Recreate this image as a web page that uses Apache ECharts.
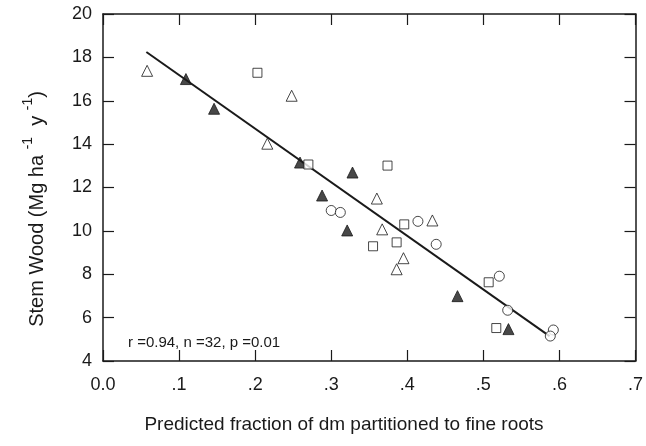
<!DOCTYPE html>
<html>
<head>
<meta charset="utf-8">
<script src="https://cdn.jsdelivr.net/npm/echarts@6/dist/echarts.min.js"></script>
<style>
html, body { margin: 0; padding: 0; background: #fff; }
#chart { width: 646px; height: 446px; }
</style>
</head>
<body>
<div id="chart"></div>
<script>
// data: [fraction to fine roots, stem wood]
var openTriangles = [[0.058, 17.38], [0.248, 16.23], [0.216, 14.02], [0.360, 11.49],
	[0.433, 10.48], [0.367, 10.07], [0.395, 8.74], [0.386, 8.23]];
var filledTriangles = [[0.109, 17.0], [0.146, 15.63], [0.259, 13.15], [0.328, 12.69],
	[0.288, 11.63], [0.321, 10.02], [0.466, 6.99], [0.533, 5.47]];
var openSquares = [[0.203, 17.29], [0.270, 13.06], [0.374, 13.01], [0.396, 10.30],
	[0.386, 9.47], [0.355, 9.29], [0.507, 7.63], [0.517, 5.52]];
var openCircles = [[0.300, 10.94], [0.312, 10.85], [0.414, 10.44], [0.438, 9.38],
	[0.521, 7.91], [0.532, 6.34], [0.592, 5.43], [0.588, 5.15]];
var fitLine = [[0.057, 18.25], [0.587, 5.15]];
var xTicks = ['0.0', '.1', '.2', '.3', '.4', '.5', '.6', '.7'];
var statsText = 'r =0.94, n =32, p =0.01';

var font = 'Liberation Sans, Arial, sans-serif';
var ink = '#1a1a1a';

var myChart = echarts.init(document.getElementById('chart'));

// one side of the box; ticks point into the plot
function frameAxis(pos, isX) {
	var a = {
		type: 'value',
		position: pos,
		axisLine: { show: true, onZero: false, lineStyle: { color: ink, width: 1.5 } },
		axisTick: { show: true, inside: true, length: 11, lineStyle: { color: ink, width: 1.2 } },
		splitLine: { show: false },
		axisLabel: { show: false }
	};
	if (isX) {
		a.min = 0; a.max = 0.7; a.interval = 0.1;
	} else {
		a.min = 4; a.max = 20; a.interval = 2;
	}
	return a;
}

var xMain = frameAxis('bottom', true);
xMain.axisLabel = {
	show: true, margin: 15, color: ink, fontSize: 18, fontFamily: font,
	formatter: function(v) { return xTicks[Math.round(v * 10)]; }
};
var yMain = frameAxis('left', false);
yMain.axisLabel = { show: true, margin: 11, color: ink, fontSize: 18, fontFamily: font };

function markers(data, symbol, size, filled) {
	return {
		type: 'scatter',
		data: data,
		symbol: symbol,
		symbolSize: size,
		xAxisIndex: 0, yAxisIndex: 0,
		itemStyle: {
			color: filled ? ink : '#fff',
			borderColor: ink,
			borderWidth: 1
		},
		z: 3
	};
}

var option = {
	animation: false,
	backgroundColor: '#fff',
	grid: { left: 103, right: 10, top: 14, bottom: 85 },
	xAxis: [xMain, frameAxis('top', true)],
	yAxis: [yMain, frameAxis('right', false)],
	series: [
		{
			type: 'line',
			data: fitLine,
			symbol: 'none',
			lineStyle: { color: ink, width: 2 },
			z: 2
		},
		markers(openTriangles, 'triangle', 11, false),
		markers(filledTriangles, 'triangle', 11, true),
		markers(openSquares, 'rect', 9, false),
		markers(openCircles, 'circle', 10, false)
	],
	graphic: [
		{
			type: 'text',
			x: 128, y: 343,
			style: { text: statsText, font: '15px ' + font, fill: ink, verticalAlign: 'middle' }
		},
		{
			type: 'text',
			x: 344, y: 425,
			style: {
				text: 'Predicted fraction of dm partitioned to fine roots',
				font: '19px ' + font, fill: ink, align: 'center', verticalAlign: 'middle'
			}
		},
		{
			type: 'text',
			x: 37, y: 209,
			rotation: Math.PI / 2,
			style: {
				text: 'Stem Wood (Mg ha {s|-1}  y {s|-1})',
				font: '20px ' + font, fill: ink, align: 'center', verticalAlign: 'middle',
				rich: {
					s: { fontSize: 14, fontFamily: font, fill: ink, verticalAlign: 'top', lineHeight: 32 }
				}
			}
		}
	]
};
myChart.setOption(option);
</script>
</body>
</html>
